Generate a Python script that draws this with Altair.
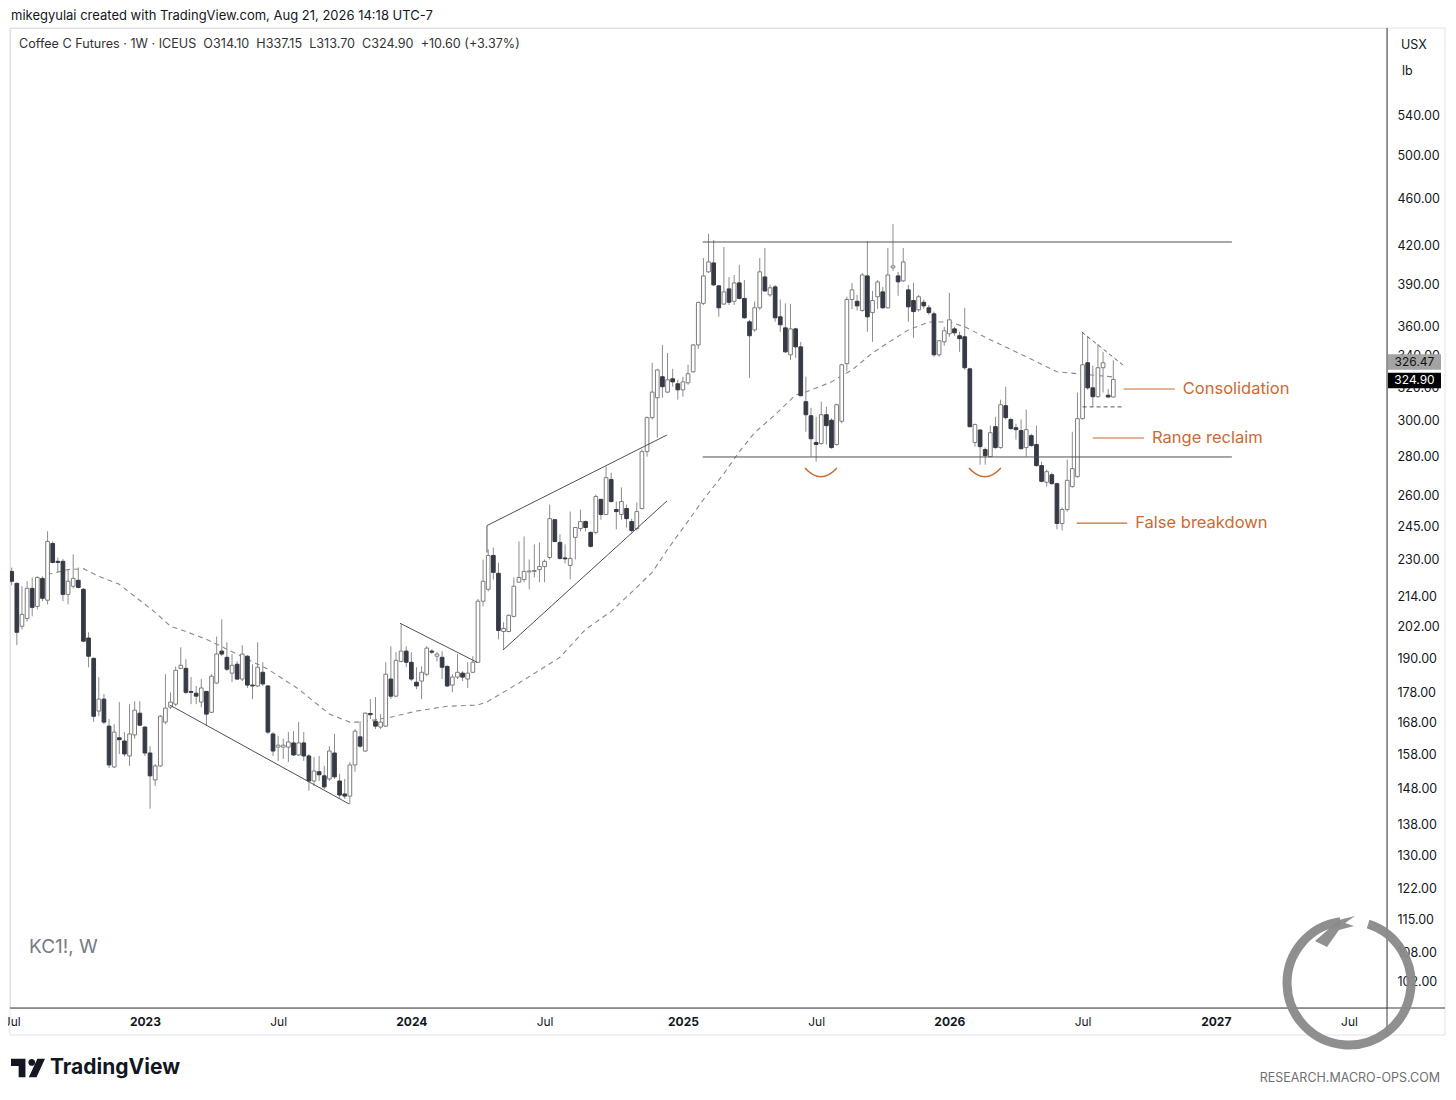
import altair as alt
import pandas as pd

FONT = "Inter"
ORANGE = "#c96b34"
INK = "#131722"

# ---------------- data ----------------
first_week = "2022-07-04"
opens = [224.6, 219.5, 202.1, 205.2, 217.4, 210.0, 221.6, 212.5, 237.0, 229.0,
         229.0, 214.9, 218.3, 220.8, 217.0, 197.6, 190.0, 171.7, 175.7, 166.8,
         154.2, 163.1, 162.1, 157.5, 164.0, 171.0, 166.5, 158.4, 150.4, 154.5,
         168.1, 173.0, 174.0, 186.4, 186.4, 178.3, 177.7, 174.7, 178.3, 171.3,
         181.2, 192.7, 190.4, 184.7, 187.9, 182.6, 190.8, 180.5, 180.2, 185.0,
         180.2, 164.3, 160.2, 160.2, 160.2, 161.5, 157.8, 161.5, 157.5, 150.1,
         152.8, 151.6, 150.7, 158.4, 150.1, 146.4, 145.8, 154.8, 163.4, 159.0,
         170.9, 168.4, 166.5, 166.8, 182.6, 176.7, 188.9, 192.7, 188.6, 181.5,
         181.9, 184.3, 192.7, 190.8, 190.4, 187.1, 180.5, 183.3, 184.7, 182.6,
         185.0, 188.6, 212.1, 217.0, 231.6, 223.8, 200.1, 200.1, 206.0, 220.0,
         221.1, 224.4, 224.6, 225.4, 226.7, 230.7, 248.1, 237.5, 230.5, 227.2,
         239.8, 243.9, 247.2, 242.1, 242.1, 258.0, 250.6, 268.0, 253.0, 250.6,
         253.5, 247.2, 243.9, 253.5, 282.8, 301.9, 313.7, 326.6, 317.1, 325.3,
         322.2, 318.5, 322.8, 329.7, 347.2, 376.1, 399.6, 406.5, 389.0, 375.6,
         386.7, 377.6, 391.2, 379.7, 363.0, 357.4, 372.9, 395.7, 382.3, 388.2,
         366.5, 358.8, 340.7, 358.1, 345.9, 311.3, 303.0, 287.8, 287.2, 303.6,
         300.4, 286.7, 299.8, 334.9, 378.9, 377.6, 371.0, 396.5, 369.5, 380.9,
         384.5, 372.9, 402.7, 396.5, 392.7, 386.0, 378.2, 371.5, 376.9, 372.9,
         368.6, 340.7, 349.3, 354.7, 358.1, 353.4, 352.7, 331.6, 287.8, 294.8,
         283.9, 280.1, 296.7, 285.0, 308.9, 300.8, 296.1, 294.5, 285.0, 291.6,
         286.7, 275.3, 266.6, 270.5, 265.9, 246.3, 253.0, 264.4, 269.5, 301.3,
         335.5, 319.7, 314.3, 332.3, 315.2, 314.10]
highs = [226.3, 219.9, 218.3, 220.4, 222.0, 222.5, 222.5, 242.6, 237.9, 230.7,
         230.0, 225.4, 232.1, 226.3, 217.5, 199.8, 190.4, 183.3, 177.4, 169.1,
         167.4, 174.7, 164.9, 174.0, 175.0, 175.0, 166.8, 160.5, 155.1, 170.4,
         184.3, 178.0, 187.1, 194.1, 189.7, 183.3, 180.2, 182.6, 178.5, 184.3,
         198.2, 204.8, 196.0, 191.6, 189.0, 194.9, 191.2, 187.9, 196.0, 188.6,
         180.5, 164.9, 163.7, 162.8, 164.9, 165.2, 168.1, 164.9, 158.1, 157.2,
         157.5, 154.5, 160.5, 164.3, 152.2, 150.7, 155.7, 165.9, 168.4, 171.3,
         175.7, 176.4, 170.7, 188.6, 194.5, 192.3, 202.9, 194.5, 192.3, 186.8,
         187.1, 194.5, 193.4, 192.3, 192.7, 187.5, 184.3, 191.6, 185.4, 188.6,
         190.8, 213.0, 229.8, 234.3, 235.2, 228.5, 203.7, 206.8, 222.0, 237.9,
         240.2, 229.8, 236.6, 237.5, 229.8, 255.4, 248.3, 241.2, 236.6, 252.0,
         244.6, 252.9, 247.7, 242.6, 260.4, 258.2, 274.8, 271.6, 256.9, 264.0,
         255.4, 248.6, 256.4, 284.0, 302.5, 335.5, 331.6, 347.2, 341.9, 331.6,
         324.7, 326.6, 334.3, 347.9, 377.4, 410.4, 430.0, 424.9, 389.7, 419.2,
         395.7, 397.2, 405.0, 393.3, 364.4, 377.4, 410.4, 418.4, 389.7, 389.7,
         378.9, 376.1, 375.6, 358.8, 349.3, 326.6, 307.7, 302.4, 311.3, 308.3,
         301.5, 310.1, 334.9, 381.0, 391.2, 382.3, 398.8, 424.0, 385.2, 393.3,
         388.2, 418.4, 438.2, 399.6, 418.4, 389.7, 391.2, 382.3, 379.0, 375.0,
         370.2, 350.7, 359.5, 383.8, 359.5, 356.1, 372.9, 332.3, 298.5, 295.2,
         285.0, 297.3, 302.4, 312.5, 320.4, 301.9, 298.4, 300.8, 306.6, 292.7,
         297.3, 277.4, 273.2, 271.6, 266.4, 254.0, 278.5, 293.8, 316.8, 355.4,
         352.7, 333.6, 347.9, 342.6, 319.0, 337.15]
lows = [218.7, 194.9, 200.9, 204.0, 206.0, 208.8, 212.1, 210.8, 228.1, 224.2,
        212.1, 210.8, 217.4, 217.4, 196.0, 186.8, 168.1, 170.0, 167.4, 153.9,
        153.9, 158.1, 157.3, 154.5, 162.8, 166.8, 157.5, 142.3, 148.7, 154.2,
        167.4, 172.4, 173.3, 186.1, 177.4, 174.0, 174.0, 173.0, 166.8, 171.0,
        180.9, 190.8, 185.4, 181.5, 182.2, 181.9, 179.5, 175.7, 179.8, 180.2,
        164.3, 157.5, 156.0, 156.6, 155.7, 157.5, 157.5, 156.0, 147.3, 148.7,
        150.1, 147.8, 150.1, 150.7, 145.0, 145.0, 143.6, 152.8, 160.0, 158.7,
        169.1, 165.9, 165.9, 166.5, 175.7, 176.4, 188.6, 186.8, 181.9, 179.1,
        175.7, 183.6, 191.6, 188.9, 182.6, 179.8, 178.0, 182.6, 181.9, 179.5,
        184.7, 188.3, 210.0, 216.1, 221.1, 197.1, 193.4, 199.8, 205.6, 220.0,
        220.0, 217.0, 222.0, 220.0, 220.0, 229.8, 237.5, 229.8, 228.1, 221.2,
        229.8, 242.6, 242.6, 235.2, 241.2, 248.1, 250.4, 256.4, 243.5, 248.1,
        244.4, 242.1, 243.0, 253.0, 280.1, 300.8, 290.5, 313.7, 316.5, 320.4,
        312.5, 314.3, 321.6, 329.1, 344.6, 374.9, 398.8, 389.0, 366.5, 374.9,
        374.9, 374.9, 379.0, 365.1, 325.9, 356.1, 371.5, 384.5, 380.9, 363.0,
        356.1, 342.0, 337.4, 338.7, 314.5, 293.8, 280.1, 277.4, 286.7, 286.7,
        284.4, 286.1, 298.6, 330.0, 372.0, 371.0, 370.2, 356.1, 349.3, 372.2,
        372.2, 372.5, 400.4, 381.6, 392.0, 363.0, 352.0, 370.2, 372.2, 368.0,
        339.4, 339.4, 346.6, 352.7, 353.4, 342.6, 331.0, 296.2, 285.5, 275.8,
        275.8, 279.8, 284.4, 284.4, 300.8, 295.0, 289.4, 283.9, 280.1, 285.5,
        274.8, 266.6, 264.4, 265.4, 243.5, 243.0, 252.0, 263.9, 269.0, 300.8,
        318.5, 308.3, 313.7, 316.8, 313.9, 313.70]
closes = [220.4, 199.8, 206.8, 217.4, 209.6, 222.0, 213.3, 237.9, 228.5, 228.5,
          214.9, 220.4, 221.6, 217.8, 196.4, 190.8, 170.0, 175.7, 168.1, 154.8,
          164.9, 162.5, 158.1, 164.3, 172.0, 167.1, 158.4, 151.6, 154.5, 170.0,
          172.7, 174.7, 185.7, 187.5, 178.0, 178.0, 176.7, 179.5, 170.7, 183.6,
          191.6, 191.6, 186.1, 187.5, 182.6, 191.6, 180.5, 180.2, 186.8, 180.9,
          164.9, 159.0, 160.8, 160.8, 161.8, 157.8, 161.5, 157.5, 150.1, 153.0,
          151.9, 148.4, 159.0, 151.3, 146.1, 145.8, 154.8, 165.2, 160.5, 171.0,
          170.5, 166.8, 168.1, 184.3, 176.7, 189.3, 192.7, 188.6, 182.6, 180.2,
          185.0, 193.8, 192.3, 191.6, 186.8, 180.2, 183.3, 185.0, 183.3, 184.7,
          188.6, 212.1, 220.4, 231.6, 224.2, 200.5, 201.3, 206.4, 218.3, 222.0,
          224.6, 224.8, 225.0, 226.7, 229.0, 248.6, 237.9, 230.3, 230.1, 230.3,
          244.4, 247.2, 244.4, 235.7, 259.4, 250.6, 269.0, 256.9, 252.0, 256.9,
          248.6, 243.0, 252.0, 282.8, 301.9, 317.1, 330.9, 320.4, 324.7, 323.4,
          318.5, 323.4, 328.5, 347.2, 376.7, 396.5, 407.3, 389.7, 372.9, 384.5,
          376.9, 391.2, 379.7, 365.8, 353.4, 372.9, 399.6, 385.2, 387.5, 365.8,
          360.9, 342.6, 358.1, 345.9, 314.9, 303.6, 289.9, 286.7, 303.6, 297.3,
          285.0, 309.5, 334.2, 378.9, 386.0, 374.3, 397.2, 366.5, 378.2, 391.9,
          372.9, 397.2, 404.2, 392.0, 407.3, 373.6, 370.2, 380.9, 374.3, 369.5,
          340.7, 350.0, 356.8, 364.4, 355.4, 351.4, 332.3, 296.7, 297.9, 285.5,
          280.6, 293.3, 285.0, 309.5, 301.9, 295.6, 295.0, 284.4, 295.0, 286.1,
          275.3, 267.1, 272.1, 265.9, 246.3, 253.0, 267.6, 273.7, 301.3, 334.2,
          319.7, 314.3, 332.3, 335.5, 314.1, 324.90]

# dashed moving average (week number from first_week, value)
ma_weeks = [7, 11, 14, 17, 21, 24, 28, 31, 34, 38, 42, 46, 50, 56, 62, 66, 68, 74,
            79, 85, 91, 93, 99, 107, 112, 117, 121, 125, 128, 132, 135, 139, 142,
            145, 149, 153, 155, 160, 164, 168, 171, 175, 179, 183, 186, 191, 198,
            204, 208, 215]
ma_values = [223.3, 225.4, 225.8, 222.5, 219.1, 214.1, 207.6, 202.1, 200.1, 197.1,
             193.4, 189.7, 186.1, 179.1, 170.7, 168.1, 168.1, 169.7, 171.7, 173.3,
             173.7, 175.0, 181.2, 190.4, 200.9, 208.0, 215.8, 224.2, 234.3, 247.4,
             257.9, 271.1, 282.8, 293.3, 303.6, 315.4, 317.1, 323.4, 330.9, 341.9,
             348.6, 357.4, 362.9, 362.9, 359.5, 350.7, 339.4, 329.7, 328.5, 326.47]

y_ticks = [102, 108, 115, 122, 130, 138, 148, 158, 168, 178, 190, 202, 214, 230,
           245, 260, 280, 300, 320, 340, 360, 390, 420, 460, 500, 540]
x_tick_dates = ["2022-07-04", "2023-01-02", "2023-07-03", "2024-01-01", "2024-07-01",
                "2025-01-06", "2025-07-07", "2026-01-05", "2026-07-06", "2027-01-04",
                "2027-07-05"]

# drawings
range_start, range_end = "2025-02-02", "2027-01-26"
range_levels = [423.2, 279.9]
trend_seg = ["a", "a", "b", "b", "c", "c", "c", "d", "d"]
trend_date = ["2023-02-05", "2023-10-08",
              "2023-12-16T12:00:00Z", "2024-03-30T17:00:00Z",
              "2024-04-13T07:00:00Z", "2024-04-13T07:00:00Z", "2024-12-15T05:00:00Z",
              "2024-05-05T05:00:00Z", "2024-12-15T05:00:00Z"]
trend_price = [173.7, 143.6, 203.3, 188.6, 232.9, 245.3, 292.0, 193.1, 257.2]
trend_order = [0, 1, 0, 1, 0, 1, 2, 0, 1]
box_seg = ["u", "u", "l", "l"]
box_date = ["2026-07-05", "2026-08-30", "2026-07-06", "2026-08-30"]
box_price = [356.0, 334.1, 308.2, 308.2]
note_text = ["Consolidation", "Range reclaim", "False breakdown"]
note_start = ["2026-08-31", "2026-07-20", "2026-06-28"]
note_end = ["2026-11-09", "2026-09-28", "2026-09-05"]
note_price = [319.0, 290.3, 246.5]
smile_date = ["2025-07-13T14:00:00Z", "2026-02-22T14:00:00Z"]
smile_price = [271.1, 271.1]
last_close = 324.90
ma_last = 326.47

# ---------------- frames ----------------
weeks = pd.date_range(first_week, periods=len(closes), freq="7D")
candles = pd.DataFrame({"date": weeks.strftime("%Y-%m-%d"), "open": opens,
                        "high": highs, "low": lows, "close": closes})
ma = pd.DataFrame({
    "date": (pd.Timestamp(first_week) + pd.to_timedelta([w * 7 for w in ma_weeks], unit="D")).strftime("%Y-%m-%d"),
    "ma": ma_values})
ranges = pd.DataFrame({"x1": [range_start] * 2, "x2": [range_end] * 2, "p": range_levels})
trends = pd.DataFrame({"seg": trend_seg, "date": trend_date, "p": trend_price, "k": trend_order})
boxes = pd.DataFrame({"seg": box_seg, "date": box_date, "p": box_price})
notes = pd.DataFrame({"x1": note_start, "x2": note_end, "p": note_price, "label": note_text})
smiles = pd.DataFrame({"date": smile_date, "p": smile_price})
tags = pd.DataFrame({"p": [ma_last, last_close], "label": [f"{ma_last:.2f}", f"{last_close:.2f}"]})
one = pd.DataFrame({"a": [0]})


def dt(s):
    y, m, d = (int(v) for v in s.split("-"))
    return alt.DateTime(year=y, month=m, date=d, utc=True)


xs = alt.Scale(type="utc", padding=0,
               domain=[alt.DateTime(year=2022, month=7, date=1, hours=16, utc=True),
                       alt.DateTime(year=2027, month=8, date=25, hours=22, utc=True)])
ys = alt.Scale(type="log", domain=[97.0, 638.7], nice=False, padding=0)

x_axis = alt.Axis(values=[dt(s) for s in x_tick_dates],
                  labelExpr="utcmonth(datum.value) == 0 ? utcFormat(datum.value, '%Y') : utcFormat(datum.value, '%b')",
                  labelFontWeight={"condition": {"test": "utcmonth(datum.value) == 0", "value": "bold"},
                                   "value": "normal"},
                  title=None, ticks=False, domain=False, grid=False, labelPadding=8,
                  labelFontSize=12, labelColor=INK, labelFont=FONT, labelFlush=False,
                  labelOverlap=False, zindex=1)
y_axis = alt.Axis(orient="right", values=y_ticks, format=".2f", title=None, ticks=False,
                  domain=False, grid=False, labelPadding=10, labelFontSize=12.5,
                  labelColor=INK, labelFont=FONT, labelOverlap=False, zindex=0)


def X(f):
    return alt.X(f, type="temporal", scale=xs, axis=x_axis, title=None)


def Y(f):
    return alt.Y(f, type="quantitative", scale=ys, axis=y_axis, title=None)


up = "datum.close >= datum.open"

frame = alt.Chart(one).mark_rect(fill="transparent", stroke="#e0e3eb", strokeWidth=1).encode(
    x=alt.value(0), x2=alt.value(1435), y=alt.value(0), y2=alt.value(1007))

ma_line = alt.Chart(ma).mark_line(color="#8a8a8a", strokeWidth=1.1, strokeDash=[5, 4], clip=True).encode(
    x=X("date"), y=Y("ma"))

wicks = alt.Chart(candles).mark_rule(color="#8c8c8c", strokeWidth=1, clip=True).encode(
    x=X("date"), y=Y("low"), y2="high")

bodies = alt.Chart(candles).mark_bar(size=3.7, strokeWidth=1, clip=True).encode(
    x=X("date"), y=Y("open"), y2="close",
    fill=alt.condition(up, alt.value("#ffffff"), alt.value("#363a45")),
    stroke=alt.condition(up, alt.value("#7c7c7c"), alt.value("#363a45")))

range_lines = alt.Chart(ranges).mark_rule(color="#505050", strokeWidth=1).encode(
    x=X("x1"), x2="x2", y=Y("p"))

trend_lines = alt.Chart(trends).mark_line(color="#505050", strokeWidth=1).encode(
    x=X("date"), y=Y("p"), detail="seg:N", order="k:Q")

box_lines = alt.Chart(boxes).mark_line(color="#555555", strokeWidth=1, strokeDash=[4, 3]).encode(
    x=X("date"), y=Y("p"), detail="seg:N")

note_lines = alt.Chart(notes).mark_rule(color=ORANGE, strokeWidth=1.2).encode(
    x=X("x1"), x2="x2", y=Y("p"))

note_labels = alt.Chart(notes).mark_text(align="left", baseline="middle", dx=8, fontSize=16.5,
                                         font=FONT, color=ORANGE).encode(
    x=X("x2"), y=Y("p"), text="label:N")

smile_marks = alt.Chart(smiles).mark_point(shape="M -1 -0.35 Q 0 0.75 1 -0.35", size=1024,
                                           filled=False, color=ORANGE, strokeWidth=1.5,
                                           opacity=1).encode(x=X("date"), y=Y("p"))

box_path = "M -1 -0.29 L 1 -0.29 L 1 0.29 L -1 0.29 Z"
tag_ma_bg = alt.Chart(tags.iloc[[0]]).mark_point(shape=box_path, size=2809, filled=True,
                                                 color="#a3a3a3", opacity=1, yOffset=-15).encode(
    x=alt.value(1404.5), y=Y("p"))
tag_ma_txt = alt.Chart(tags.iloc[[0]]).mark_text(fontSize=12, font=FONT, color="#111111",
                                                 yOffset=-15).encode(
    x=alt.value(1404.5), y=Y("p"), text="label:N")
tag_c_bg = alt.Chart(tags.iloc[[1]]).mark_point(shape=box_path, size=2809, filled=True,
                                                color="#000000", opacity=1, yOffset=1).encode(
    x=alt.value(1404.5), y=Y("p"))
tag_c_txt = alt.Chart(tags.iloc[[1]]).mark_text(fontSize=12, font=FONT, color="#ffffff",
                                                yOffset=1).encode(
    x=alt.value(1404.5), y=Y("p"), text="label:N")

axis_v = alt.Chart(one).mark_rule(color="#3c3c3c", strokeWidth=1).encode(
    x=alt.value(1377), y=alt.value(0), y2=alt.value(1007))
axis_h = alt.Chart(one).mark_rule(color="#3c3c3c", strokeWidth=1).encode(
    x=alt.value(0), x2=alt.value(1435), y=alt.value(980))


def label(text, x, y, size=12.5, color=INK, weight="normal", align="left"):
    return alt.Chart(one).mark_text(align=align, baseline="middle", fontSize=size, font=FONT,
                                    color=color, fontWeight=weight).encode(
        x=alt.value(x), y=alt.value(y), text=alt.value(text))


sp = "\u00a0\u00a0"
texts = [
    label("mikegyulai created with TradingView.com, Aug 21, 2026 14:18 UTC-7", 1, -12, 13),
    label("Coffee C Futures · 1W · ICEUS" + sp + "O314.10" + sp + "H337.15" + sp + "L313.70"
          + sp + "C324.90" + sp + "+10.60 (+3.37%)", 9, 16, 12.6, "#333333"),
    label("USX", 1391, 17, 12.5),
    label("lb", 1392, 43, 12.5),
    label("KC1!, W", 19, 919, 19, "#787b86"),
    label("TradingView", 40, 1040, 21, INK, "bold"),
    label("RESEARCH.MACRO-OPS.COM", 1430, 1050, 12.5, "#707070", "normal", "right"),
]

tv_path = ("M -1 -0.55 L -0.15 -0.55 L -0.15 0.55 L -0.55 0.55 L -0.55 -0.12 L -1 -0.12 Z "
           "M 0.02 -0.33 A 0.2 0.2 0 1 0 0.42 -0.33 A 0.2 0.2 0 1 0 0.02 -0.33 Z "
           "M 0.55 -0.55 L 1 -0.55 L 0.5 0.55 L 0.05 0.55 Z")
tv_logo = alt.Chart(one).mark_point(shape=tv_path, size=1156, filled=True, color=INK,
                                    opacity=1).encode(x=alt.value(18), y=alt.value(1040))

ring = alt.Chart(one).mark_point(shape="M 0.309 -0.951 A 1 1 0 1 1 -0.139 -0.990", size=15376,
                                 filled=False, color="#8a8a8a", strokeWidth=9,
                                 opacity=0.95).encode(x=alt.value(1339), y=alt.value(955))
head = alt.Chart(one).mark_point(
    shape="M -1 0.7 L 0.2 -0.35 L 1 -0.55 L 0.5 -0.2 L 0.95 -0.05 L 0.2 0.15 L -0.4 1 Z",
    size=1600, filled=True, color="#8a8a8a", opacity=0.95).encode(
    x=alt.value(1325), y=alt.value(899))

chart = alt.layer(
    frame, ma_line, wicks, bodies, range_lines, trend_lines, box_lines,
    note_lines, note_labels, smile_marks, axis_v, axis_h,
    tag_ma_bg, tag_ma_txt, tag_c_bg, tag_c_txt, *texts, tv_logo, ring, head
).properties(
    width=1377, height=980,
    padding={"left": 2, "top": 20, "right": 59, "bottom": 80},
    autosize=alt.AutoSizeParams(type="none"),
).configure_view(stroke=None).configure(font=FONT)

chart.save("out.html", embed_options={"renderer": "svg", "actions": False})
